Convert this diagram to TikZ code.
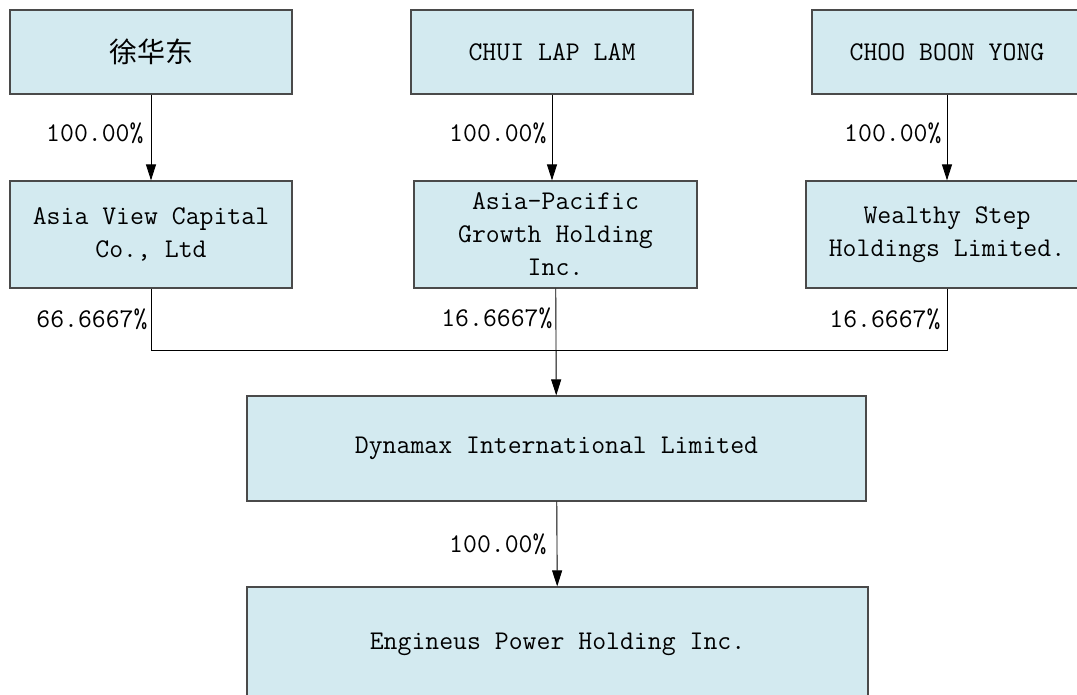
\documentclass[tikz,border=0pt]{standalone}
\usepackage{fontspec}
\newfontfamily\cjk{Noto Sans CJK SC}
\usetikzlibrary{arrows.meta}

\definecolor{boxfill}{HTML}{D3EAF0}
\definecolor{boxline}{HTML}{4A4A4A}

\tikzset{
    holder/.style={draw=boxline,line width=1.2pt,fill=boxfill,rectangle,inner sep=0,align=center,
        font=\ttfamily\fontsize{27}{33}\selectfont},
    share/.style={line width=0.9pt,-{Triangle[length=16pt,width=10pt]}},
    link/.style={line width=0.9pt},
    pct/.style={font=\ttfamily\fontsize{27}{33}\selectfont,inner sep=3pt}
}

\begin{document}
\begin{tikzpicture}[x=1pt,y=-1pt]
    \pgfmathsetmacro{\topw}{282}
    \pgfmathsetmacro{\toph}{84}
    \pgfmathsetmacro{\midh}{107}
    \useasboundingbox (0,0) rectangle (1077,695);
    \begin{scope}
    \clip (0,0) rectangle (1077,695);
    % owners
    \node[holder,minimum width=\topw,minimum height=\toph] (xu) at (151,52) {\cjk\fontsize{28}{33}\selectfont 徐华东};
    \node[holder,minimum width=\topw,minimum height=\toph] (chui) at (552,52) {CHUI LAP LAM};
    \node[holder,minimum width=270,minimum height=\toph] (choo) at (947,52) {CHOO BOON YONG};
    % holding companies
    \node[holder,minimum width=\topw,minimum height=\midh] (avc) at (151,234.5) {Asia View Capital\\Co., Ltd};
    \node[holder,minimum width=283,minimum height=\midh] (apg) at (555.5,234.5) {Asia-Pacific\\Growth Holding\\Inc.};
    \node[holder,minimum width=\topw,minimum height=\midh] (wsh) at (947,234.5) {Wealthy Step\\Holdings Limited.};
    % operating companies
    \node[holder,minimum width=619,minimum height=105] (dyn) at (556.5,448.5) {Dynamax International Limited};
    \node[holder,minimum width=621,minimum height=114] (eng) at (557.5,644) {Engineus Power Holding Inc.};
    \coordinate (join) at (556,350);
    \draw[share] (xu) -- (avc) node[pct,midway,left,inner sep=7pt,yshift=4pt] {100.00\%};
    \draw[share] (chui) -- (chui |- apg.north) node[pct,midway,left,inner sep=5pt,yshift=4pt] {100.00\%};
    \draw[share] (choo) -- (choo |- wsh.north) node[pct,midway,left,inner sep=5pt,yshift=4pt] {100.00\%};
    \draw[link] (avc) |- (join) node[pct,pos=0.25,left] {66.6667\%};
    \draw[link] (wsh) |- (join) node[pct,pos=0.25,left,inner sep=6pt] {16.6667\%};
    \draw[share] (apg) -- (dyn) node[pct,pos=0.28,left] {16.6667\%};
    \draw[share] (dyn) -- (eng) node[pct,midway,left,inner sep=10pt] {100.00\%};
    \end{scope}
\end{tikzpicture}
\end{document}
